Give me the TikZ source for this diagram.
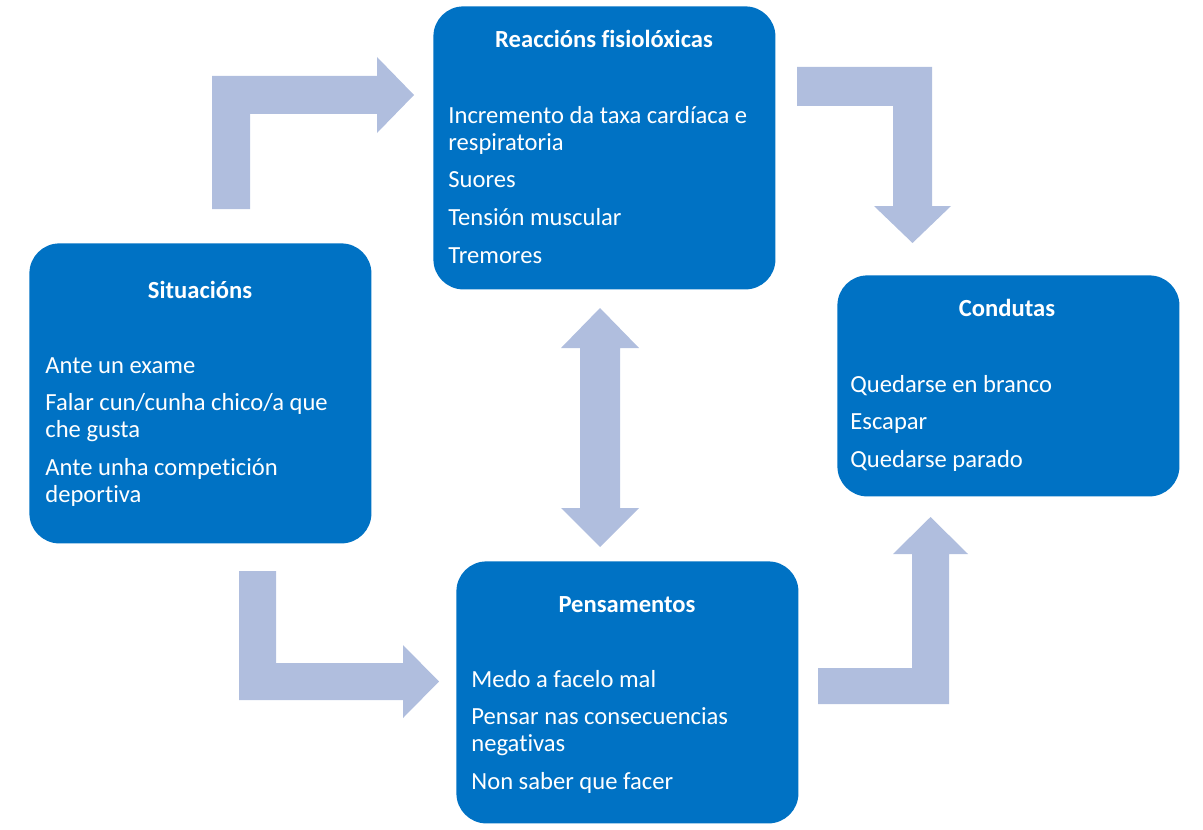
\documentclass[tikz,border=0pt]{standalone}
\usepackage{fontspec}
\setmainfont{Carlito}[Ligatures=NoCommon]
\usepackage{xcolor}
\usetikzlibrary{arrows,shapes,calc,positioning}
\definecolor{boxblue}{RGB}{0,114,196}
\definecolor{arrowblue}{RGB}{176,190,222}

\begin{document}
\begin{tikzpicture}[x=0.5pt, y=-0.5pt]
		\tikzstyle{every node}=[font=\fontsize{12.3}{13.5}\selectfont, text=white, inner sep=0pt]
		\tikzstyle{box}=[fill=boxblue, rounded corners=15pt, minimum width=171pt, anchor=north west]
		\tikzstyle{title}=[font=\fontsize{12.3}{13.5}\selectfont\bfseries, anchor=base]
		\tikzstyle{item}=[anchor=base west]
		\tikzstyle{bigarrow}=[fill=arrowblue, draw=none]
		\useasboundingbox (0,0) rectangle (1203,829);
		% boxes
		\node [box, minimum height=141.5pt] (reac) at (433,6) {};
		\node [box, minimum height=150pt] (situ) at (29,243) {};
		\node [box, minimum height=110.5pt] (cond) at (837,275) {};
		\node [box, minimum height=131pt] (pens) at (456,561) {};
		% block arrows
		\draw [bigarrow] (212,209) -- (212,76) -- (377,76) -- (377,57) -- (414,95) -- (377,133) -- (377,114) -- (250,114) -- (250,209) -- cycle;
		\draw [bigarrow] (797,67) -- (932,67) -- (932,206) -- (951,206) -- (912.5,243) -- (874,206) -- (893,206) -- (893,106) -- (797,106) -- cycle;
		\draw [bigarrow] (600,308) -- (639,348) -- (620,348) -- (620,508) -- (639,508) -- (600,547) -- (561,508) -- (580,508) -- (580,348) -- (561,348) -- cycle;
		\draw [bigarrow] (239,571) -- (276,571) -- (276,663) -- (403,663) -- (403,645) -- (439,681.5) -- (403,718) -- (403,700) -- (239,700) -- cycle;
		\draw [bigarrow] (818,704) -- (818,668) -- (912,668) -- (912,554) -- (893,554) -- (930.5,517) -- (968,554) -- (949,554) -- (949,704) -- cycle;
		% Reaccions
		\node [title] (reactitle) at (604,48) {Reaccións fisiolóxicas};
		\node [item] (reac1) at (448,123) {Incremento da taxa cardíaca e};
		\node [item] (reac2) at (448,150) {respiratoria};
		\node [item] (reac3) at (448,187) {Suores};
		\node [item] (reac4) at (448,225) {Tensión muscular};
		\node [item] (reac5) at (448,263) {Tremores};
		% Situacions
		\node [title] (situtitle) at (200,298) {Situacións};
		\node [item] (situ1) at (45,373) {Ante un exame};
		\node [item] (situ2) at (45,410) {Falar cun/cunha chico/a que};
		\node [item] (situ3) at (45,437) {che gusta};
		\node [item] (situ4) at (45,475) {Ante unha competición};
		\node [item] (situ5) at (45,502) {deportiva};
		% Condutas
		\node [title] (condtitle) at (1007,316) {Condutas};
		\node [item] (cond1) at (850,392) {Quedarse en branco};
		\node [item] (cond2) at (850,429) {Escapar};
		\node [item] (cond3) at (850,467) {Quedarse parado};
		% Pensamentos
		\node [title] (penstitle) at (627,612) {Pensamentos};
		\node [item] (pens1) at (471,687) {Medo a facelo mal};
		\node [item] (pens2) at (471,724) {Pensar nas consecuencias};
		\node [item] (pens3) at (471,751) {negativas};
		\node [item] (pens4) at (471,789) {Non saber que facer};
		\end{tikzpicture}
\end{document}
